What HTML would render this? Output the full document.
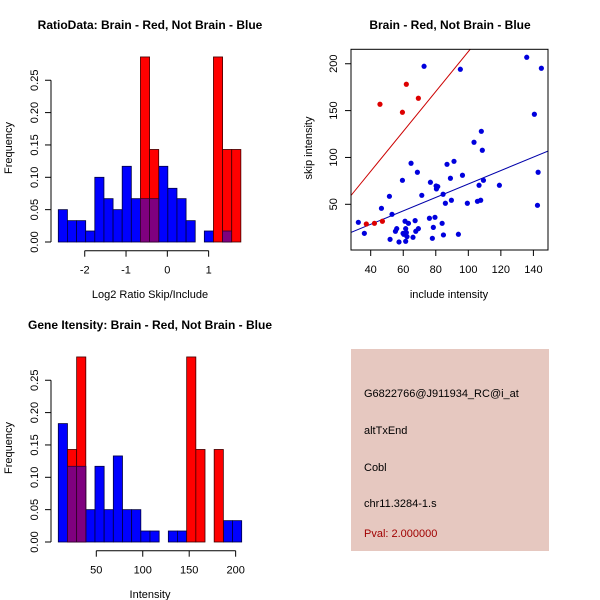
<!DOCTYPE html>
<html><head><meta charset="utf-8"><style>
body{margin:0;background:#fff}
svg{display:block;font-family:"Liberation Sans",sans-serif}
</style></head><body>
<svg id="c" width="600" height="600" viewBox="0 0 600 600">
<text x="150" y="29" font-size="12" font-weight="bold" text-anchor="middle">RatioData: Brain - Red, Not Brain - Blue</text>
<text x="450" y="29" font-size="12" font-weight="bold" text-anchor="middle">Brain - Red, Not Brain - Blue</text>
<text x="150" y="329" font-size="12" font-weight="bold" text-anchor="middle">Gene Itensity: Brain - Red, Not Brain - Blue</text>
<g>
<rect x="351" y="349" width="198" height="202" fill="#e6c8c0"/>
<text x="364" y="397" font-size="11">G6822766@J911934_RC@i_at</text>
<text x="364" y="434" font-size="11">altTxEnd</text>
<text x="364" y="471" font-size="11">Cobl</text>
<text x="364" y="507" font-size="11">chr11.3284-1.s</text>
<text x="364" y="537" font-size="11" fill="#a00000">Pval: 2.000000</text>
</g>
</svg>
<script>
// ---- data: ratio histogram ----
const ratioBinStart = -2.64;
const ratioBinWidth = 0.221;
const ratioBlue = [0.05,0.033,0.033,0.017,0.1,0.067,0.05,0.117,0.067,0.067,0.067,0.117,0.083,0.067,0.033,0,0.017,0,0.017,0];
const ratioRed  = [0,0,0,0,0,0,0,0,0,0.286,0.143,0,0,0,0,0,0,0.286,0.143,0.143];
const ratioXTicks = [-2,-1,0,1];
const freqTicks = ["0.00","0.05","0.10","0.15","0.20","0.25"];
// ---- data: intensity histogram ----
const intBinStart = 9.1;
const intBinWidth = 9.87;
const intBlue = [0.183,0.117,0.117,0.05,0.117,0.05,0.133,0.05,0.05,0.017,0.017,0,0.017,0.017,0,0,0,0,0.033,0.033];
const intRed  = [0,0.143,0.286,0,0,0,0,0,0,0,0,0,0,0,0.286,0.143,0,0.143,0,0];
const intXTicks = [50,100,150,200];
// ---- data: scatter ----
const blueX = [32.4,36.1,72.8,95.1,135.9,144.9,140.6,108.0,103.5,108.6,64.8,68.7,59.5,51.5,46.6,53.1,56.0,55.2,51.9,57.4,61.1,63.2,61.5,59.9,61.9,62.3,60.3,61.5,66.0,67.3,67.7,69.3,71.4,76.7,80.2,80.4,81.2,84.5,76.1,79.5,83.9,78.5,77.9,84.7,85.9,86.9,89.0,89.6,91.2,96.4,99.4,93.9,105.6,107.6,106.6,109.3,119.1,142.5,142.9];
const blueY = [30.8,19.0,197.3,194.1,206.9,195.2,146.1,127.9,116.2,107.7,93.8,84.2,75.6,58.5,45.7,39.3,24.0,21.2,12.6,9.8,31.9,29.7,24.0,19.0,19.8,15.5,18.0,10.5,14.8,32.6,21.2,24.0,59.6,73.5,69.6,66.4,68.9,60.7,35.1,36.1,29.7,25.4,13.7,17.3,51.1,92.7,77.8,54.3,95.9,81.0,51.1,18.0,53.2,54.3,70.3,75.6,70.3,48.9,84.2];
const redX = [45.7,59.5,61.9,69.3,37.3,42.3,47.2];
const redY = [156.8,148.2,178.1,163.2,29.0,29.7,31.9];
const redSlope = 2.13, blueSlope = 0.717;
const scXTicks = [40,60,80,100,120,140];
const scYTicks = [50,100,150,200];

const NS="http://www.w3.org/2000/svg", svg=document.getElementById('c');
function mk(tag,attrs,parent){const e=document.createElementNS(NS,tag);for(const k in attrs)e.setAttribute(k,attrs[k]);(parent||svg).appendChild(e);return e;}

function hist(oy, x0px, pxPerUnit, binStart, binW, blue, red, xt, xlabel, prefix){
  const g=mk('g',{});
  
  
  const X=v=>x0px+(v-binStart)*pxPerUnit;
  const Y=v=>oy+242-v*647;
  for(let i=0;i<blue.length;i++){
    const xa=X(binStart+i*binW), xb=X(binStart+(i+1)*binW);
    if(blue[i]>0){const r=mk('rect',{x:xa,y:Y(blue[i]),width:xb-xa,height:Y(0)-Y(blue[i]),fill:'#0000ff',stroke:'#000040','stroke-width':0.8},g);
      
      }
  }
  for(let i=0;i<red.length;i++){
    if(red[i]<=0)continue;
    const xa=X(binStart+i*binW), xb=X(binStart+(i+1)*binW);
    const r=mk('rect',{x:xa,y:Y(red[i]),width:xb-xa,height:Y(0)-Y(red[i]),fill:'#ff0000',stroke:'#400000','stroke-width':0.8},g);
    
    
    const m=Math.min(red[i],blue[i]);
    if(m>0){const p=mk('rect',{x:xa,y:Y(m),width:xb-xa,height:Y(0)-Y(m),fill:'#7f007f',stroke:'#300030','stroke-width':0.8},g);
      
      }
  }
  // y axis
  mk('line',{x1:51,x2:51,y1:Y(0),y2:Y(0.25),stroke:'#000'},g);
  freqTicks.forEach((t,i)=>{const v=i*0.05;
    mk('line',{x1:45,x2:51,y1:Y(v),y2:Y(v),stroke:'#000'},g);
    const tx=mk('text',{x:0,y:0,'font-size':11,'text-anchor':'middle',transform:`translate(38,${Y(v)}) rotate(-90)`},g);
    tx.textContent=t;
    
    });
  const yl=mk('text',{x:0,y:0,'font-size':11,'text-anchor':'middle',transform:`translate(12,${oy+148}) rotate(-90)`},g);
  yl.textContent='Frequency';
  
  
  // x axis
  const ay=oy+250.7;
  mk('line',{x1:X(xt[0]),x2:X(xt[xt.length-1]),y1:ay,y2:ay,stroke:'#000'},g);
  xt.forEach(v=>{mk('line',{x1:X(v),x2:X(v),y1:ay,y2:ay+6,stroke:'#000'},g);
    const tx=mk('text',{x:X(v),y:ay+23,'font-size':11,'text-anchor':'middle'},g);
    tx.textContent=String(v);
    
    });
  const xl=mk('text',{x:150,y:oy+298,'font-size':11,'text-anchor':'middle'},g);
  xl.textContent=xlabel;
  
  
}
hist(0, 58.3, 41.3, ratioBinStart, ratioBinWidth, ratioBlue, ratioRed, ratioXTicks, 'Log2 Ratio Skip/Include','ratio');
hist(300, 58.3, 0.929, intBinStart, intBinWidth, intBlue, intRed, intXTicks, 'Intensity','intensity');

// scatter
(function(){
  const g=mk('g',{});
  
  
  const X=v=>370.7+(v-40)*1.627, Y=v=>204.3-(v-50)*0.937;
  const L=351,R=548,T=49.3,B=250;
  const cp=mk('clipPath',{id:'clip'},g);mk('rect',{x:L,y:T,width:R-L,height:B-T},cp);
  const xmin=(L-370.7)/1.627+40, xmax=(R-370.7)/1.627+40;
  const rl=mk('line',{x1:X(xmin),y1:Y(xmin*redSlope),x2:X(xmax),y2:Y(xmax*redSlope),stroke:'#cc0000','clip-path':'url(#clip)'},g);
  
  
  const bl=mk('line',{x1:X(xmin),y1:Y(xmin*blueSlope),x2:X(xmax),y2:Y(xmax*blueSlope),stroke:'#0000aa','clip-path':'url(#clip)'},g);
  
  
  blueX.forEach((v,i)=>{const c=mk('circle',{cx:X(v),cy:Y(blueY[i]),r:2.6,fill:'#0000dd'},g);
    
    });
  redX.forEach((v,i)=>{const c=mk('circle',{cx:X(v),cy:Y(redY[i]),r:2.6,fill:'#dd0000'},g);
    
    });
  mk('rect',{x:L,y:T,width:R-L,height:B-T,fill:'none',stroke:'#000'},g);
  scXTicks.forEach(v=>{mk('line',{x1:X(v),x2:X(v),y1:B,y2:B+6,stroke:'#000'},g);
    const t=mk('text',{x:X(v),y:B+23,'font-size':11,'text-anchor':'middle'},g);t.textContent=String(v);
    
    });
  scYTicks.forEach(v=>{mk('line',{x1:L-6,x2:L,y1:Y(v),y2:Y(v),stroke:'#000'},g);
    const t=mk('text',{x:0,y:0,'font-size':11,'text-anchor':'middle',transform:`translate(337,${Y(v)}) rotate(-90)`},g);t.textContent=String(v);
    
    });
  const xl=mk('text',{x:449,y:298,'font-size':11,'text-anchor':'middle'},g);xl.textContent='include intensity';
  
  
  const yl=mk('text',{x:0,y:0,'font-size':11,'text-anchor':'middle',transform:'translate(312,148) rotate(-90)'},g);yl.textContent='skip intensity';
  
  
})();
</script>
</body></html>
